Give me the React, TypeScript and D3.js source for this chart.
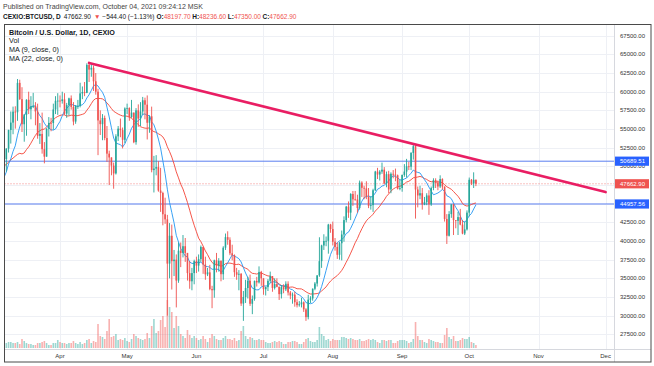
import React from "react";
import * as d3 from "d3";

const W = 654;
const H = 366;

// closes Feb 14 .. Mar 6 (only used to warm up the moving averages)
const warmupCloses = [48600, 47900, 49200, 52100, 51600, 55900, 55900, 57400, 54100, 48900, 49700, 47100, 46300, 46200, 45200, 49600, 48400, 50500, 48400, 48800, 48900];

// daily candles from Mar 7 2021 to Oct 4 2021 (open = previous close)
const closes = [
  // Mar
  50970, 52380, 54880, 55860, 57330, 57240, 61180, 59000, 55640, 56920, 58920, 57640, 58030, 58100, 57350, 54080, 54340, 52300, 51300, 55050, 55820, 55800, 57620, 58780, 58800,
  // Apr
  58740, 58970, 57060, 58200, 59110, 57970, 56000, 58090, 58110, 59770, 59960, 59840, 63580, 62960, 63200, 61390, 60000, 56150, 55650, 56480, 53790, 51700, 51190, 50100, 49050, 54020, 55050, 54850, 53550, 57750,
  // May
  57820, 56600, 57200, 53240, 57500, 56400, 57350, 58850, 58260, 55840, 56700, 49500, 49700, 49900, 46760, 46430, 43580, 42900, 36970, 40700, 37300, 37500, 34700, 38700, 38400, 39300, 38400, 35700, 34600, 35700, 37300,
  // Jun
  36700, 37570, 39200, 36850, 35530, 35800, 33560, 33400, 37400, 36700, 37340, 35550, 39100, 40520, 40160, 38350, 38090, 35820, 35480, 35600, 31620, 32500, 33700, 34660, 31590, 32240, 34650, 34450, 35860, 35000,
  // Jul
  33540, 33820, 34660, 35290, 33710, 34230, 33860, 32880, 33820, 33520, 34270, 33100, 32700, 32820, 31800, 31400, 31520, 31780, 30840, 29800, 32140, 32300, 33600, 34300, 35400, 37300, 39400, 40000, 40020, 42200, 41600,
  // Aug
  39900, 39200, 38150, 39700, 40870, 42800, 44600, 43800, 46300, 45580, 45550, 44420, 47820, 47120, 47040, 45900, 44700, 44800, 46800, 49300, 48900, 49300, 49550, 47700, 48950, 46900, 49000, 48900, 48800, 47000, 47100,
  // Sep
  48850, 49300, 50000, 49950, 51800, 52700, 46900, 46100, 46400, 44900, 45200, 46100, 44900, 47100, 48150, 47800, 47300, 48300, 47300, 42950, 40700, 43600, 44900, 42800, 42700, 43200, 42200, 41000, 41550, 43800,
  // Oct
  48200, 47700, 48197.7, 47662.9,
];

const highs = [
  51450, 52400, 54900, 57350, 58000, 58050, 61700, 61600, 60600, 57000, 58980, 60000, 59400, 59850, 58600, 58400, 55800, 57200, 53250, 55100, 56600, 56500, 58400, 59400, 59800,
  59500, 60000, 59800, 58500, 59200, 59500, 58600, 58200, 58900, 61200, 60700, 61300, 63800, 64000, 63800, 63500, 62500, 60400, 57500, 57000, 56800, 55400, 52100, 51200, 50500, 54300, 55400, 56400, 55200, 57900,
  58400, 57900, 58900, 57200, 57800, 58300, 58600, 59300, 59200, 59500, 56800, 58000, 51400, 51500, 50700, 49800, 46600, 45800, 43500, 42400, 42200, 38800, 38200, 39800, 39800, 40800, 40400, 38200, 37300, 36400, 37500,
  37900, 38200, 39400, 39200, 37900, 36400, 36800, 34000, 37500, 38400, 37700, 37400, 39300, 41000, 41300, 40500, 39500, 38200, 36400, 36100, 35700, 33300, 34800, 35200, 35500, 32700, 34700, 35200, 36600, 36000,
  35000, 33900, 34900, 35900, 35300, 35000, 35000, 33900, 34100, 34200, 34600, 34600, 33300, 33100, 33200, 32200, 31950, 32400, 31900, 31000, 32800, 32600, 33650, 34500, 35400, 40500, 39500, 40900, 40600, 42300, 42300,
  42600, 40400, 39800, 39900, 41400, 43300, 44700, 45300, 46400, 46700, 46700, 46200, 48100, 48000, 47400, 48000, 47100, 46000, 47000, 49400, 49800, 49500, 50500, 49900, 49300, 49400, 49200, 49500, 49700, 48900, 48200,
  48900, 50300, 51000, 50600, 51900, 52900, 52900, 47300, 47400, 47100, 45900, 46400, 46800, 47300, 48400, 48400, 48100, 48800, 48400, 47300, 43600, 44000, 44950, 45000, 42800, 43900, 44300, 42800, 42600, 44100,
  48500, 48300, 49200, 48236.6,
];

const lows = [
  48900, 49300, 51850, 53050, 54300, 55050, 56100, 58900, 54600, 53300, 54100, 57000, 56300, 57800, 55500, 53700, 53000, 51700, 50400, 51300, 54000, 54700, 54900, 57000, 56900,
  57900, 58400, 56900, 56500, 56800, 57600, 55500, 55700, 57700, 57900, 59000, 59400, 59800, 61300, 62000, 60100, 59600, 51500, 54200, 53500, 53500, 50600, 47500, 48800, 47000, 48900, 53400, 53900, 52400, 53100,
  57000, 56100, 56500, 53100, 52900, 55300, 55400, 56900, 56300, 53600, 54500, 49200, 46500, 48800, 46600, 43900, 42100, 42300, 30000, 35000, 33500, 35300, 31100, 34400, 36500, 37800, 37200, 34700, 33600, 33400, 34200,
  35700, 35900, 37200, 35600, 34800, 35300, 33400, 31000, 32400, 35800, 35900, 34600, 34800, 38800, 39500, 38100, 37400, 35200, 34800, 33400, 31300, 29300, 31700, 32300, 31300, 30200, 32000, 33900, 34300, 34000,
  32800, 32700, 33300, 34400, 33200, 33500, 33800, 32100, 32300, 33000, 33300, 32700, 32200, 31600, 31200, 31100, 31200, 31100, 30500, 29300, 29500, 31700, 32000, 33400, 33900, 35200, 36400, 38800, 39300, 38300, 41100,
  39400, 38700, 37600, 37500, 37400, 39900, 42500, 43100, 42800, 44700, 45400, 43800, 44200, 45900, 45600, 45600, 44400, 44200, 43900, 46700, 48300, 48100, 49000, 47600, 47200, 46400, 46400, 48400, 48000, 46900, 46800,
  46600, 48600, 48500, 49500, 49500, 50900, 43000, 44500, 45600, 44200, 44800, 44800, 43500, 44700, 46800, 47100, 46800, 47100, 46900, 42600, 39600, 40600, 43100, 40800, 41700, 40800, 42100, 40900, 40800, 41400,
  43300, 47500, 47100, 47350,
];

// daily volume, hundreds of BTC
const volumes = [
  5, 5, 6, 6, 5, 5, 6, 4, 9, 7, 5, 4, 4, 3, 3, 5, 5, 6, 7, 5, 3, 3, 5, 5, 8,
  6, 5, 5, 4, 5, 5, 7, 5, 4, 6, 4, 5, 8, 9, 5, 7, 6, 24, 12, 11, 9, 17, 29, 11, 12, 14, 8, 9, 8, 10,
  7, 6, 9, 14, 12, 10, 9, 8, 9, 15, 10, 22, 29, 15, 17, 28, 32, 21, 48, 41, 36, 20, 32, 22, 14, 12, 10, 18, 13, 10, 12,
  10, 8, 9, 12, 9, 6, 10, 14, 12, 9, 8, 8, 10, 12, 9, 9, 8, 10, 7, 8, 17, 22, 12, 9, 11, 10, 8, 8, 9, 8,
  8, 6, 5, 5, 6, 7, 6, 7, 6, 4, 4, 6, 6, 7, 7, 6, 4, 4, 6, 9, 10, 7, 6, 6, 8, 21, 14, 12, 8, 9, 7,
  9, 8, 8, 8, 11, 11, 10, 9, 10, 9, 8, 8, 9, 7, 7, 8, 9, 8, 9, 8, 6, 5, 8, 8, 7, 8, 8, 5, 5, 7, 8,
  8, 8, 7, 5, 6, 9, 26, 12, 8, 8, 6, 5, 9, 8, 7, 6, 6, 5, 5, 13, 20, 11, 9, 12, 7, 7, 8, 10, 9, 9,
  11, 6, 5, 3,
];

const priceTicks = [27500, 30000, 32500, 35000, 37500, 40000, 42500, 45000, 47500, 50000, 52500, 55000, 57500, 60000, 62500, 65000, 67500];
const monthLabels = ["Apr", "May", "Jun", "Jul", "Aug", "Sep", "Oct", "Nov", "Dec"];
const levelLines = [50689.51, 44957.56];
const lastPrice = 47662.9;
const trendStart = { date: Date.UTC(2021, 3, 14), price: 63850 };
const trendEnd = { date: Date.UTC(2021, 11, 1), price: 46550 };

const RED = "#ef5350";
const GREEN = "#26a69a";
const FONT = "'Liberation Sans', Arial, sans-serif";

export default function App() {
  const plot = { left: 4.5, right: 614, top: 24.5, bottom: 349 };

  const x = d3.scaleUtc().domain([Date.UTC(2021, 3, 1), Date.UTC(2021, 11, 1)]).range([60, 605.6]);
  const y = d3.scaleLinear().domain([27500, 67500]).range([334.3, 35.7]);
  const vy = d3.scaleLinear().domain([0, d3.max(volumes) as number]).range([348, 300]);

  const start = Date.UTC(2021, 2, 7);
  const bars = closes.map((c, i) => {
    const open = i === 0 ? warmupCloses[warmupCloses.length - 1] : closes[i - 1];
    return {
      t: start + i * 864e5,
      open,
      close: c,
      high: Math.max(highs[i], open, c),
      low: Math.min(lows[i], open, c),
      vol: volumes[i],
    };
  });

  const all = warmupCloses.concat(closes);
  const ma = (n: number) =>
    bars.map((b, i) => {
      const end = i + warmupCloses.length;
      return { t: b.t, v: d3.mean(all.slice(end - n + 1, end + 1)) as number };
    });
  const line = d3
    .line<{ t: number; v: number }>()
    .x((d) => x(d.t))
    .y((d) => y(d.v));

  const months = monthLabels.map((m, i) => ({ m, t: Date.UTC(2021, 3 + i, 1) }));
  const bw = 1.6;

  return (
    <svg width={W} height={H} style={{ position: "absolute", left: 0, top: 0, background: "#fff" }} fontFamily={FONT}>
      <defs>
        <clipPath id="plot">
          <rect x={plot.left} y={plot.top} width={plot.right - plot.left} height={plot.bottom - plot.top} />
        </clipPath>
      </defs>
      <rect width={W} height={H} fill="#fff" />

      {/* header */}
      <text x={3} y={9} fontSize={7} fill="#444">
        Published on TradingView.com, October 04, 2021 09:24:12 MSK
      </text>
      <text x={3} y={18.5} fontSize={6.5} fill="#131722">
        <tspan fontWeight="bold">CEXIO:BTCUSD, D</tspan>
        <tspan dx={3}>47662.90</tspan>
        <tspan dx={3} fill={RED}>▼</tspan>
        <tspan dx={2}>−544.40 (−1.13%)</tspan>
        <tspan dx={2} fontWeight="bold">O:</tspan>
        <tspan fill={RED}>48197.70</tspan>
        <tspan dx={1.5} fontWeight="bold">H:</tspan>
        <tspan fill={RED}>48236.60</tspan>
        <tspan dx={1.5} fontWeight="bold">L:</tspan>
        <tspan fill={RED}>47350.00</tspan>
        <tspan dx={1.5} fontWeight="bold">C:</tspan>
        <tspan fill={RED}>47662.90</tspan>
      </text>

      {/* grid */}
      <g stroke="#eef0f5" strokeWidth={1}>
        {priceTicks.map((p) => (
          <line key={p} x1={plot.left} x2={plot.right} y1={Math.round(y(p)) + 0.5} y2={Math.round(y(p)) + 0.5} />
        ))}
        {months.map((d) => (
          <line key={d.m} x1={Math.round(x(d.t)) + 0.5} x2={Math.round(x(d.t)) + 0.5} y1={plot.top} y2={plot.bottom} />
        ))}
      </g>

      <g clipPath="url(#plot)">
        {/* volume */}
        {bars.map((b) => (
          <rect
            key={"v" + b.t}
            x={x(b.t) - bw / 2}
            y={vy(b.vol)}
            width={bw}
            height={348 - vy(b.vol)}
            fill={b.close >= b.open ? GREEN : RED}
            opacity={0.45}
          />
        ))}

        {/* level lines */}
        {levelLines.map((p) => (
          <line key={p} x1={plot.left} x2={plot.right} y1={y(p)} y2={y(p)} stroke="#5b7ff0" strokeWidth={1} />
        ))}
        <line x1={plot.left} x2={plot.right} y1={y(lastPrice)} y2={y(lastPrice)} stroke={RED} strokeWidth={1} strokeDasharray="1,2" opacity={0.7} />

        {/* moving averages */}
        <path d={line(ma(22)) || ""} fill="none" stroke="#f44336" strokeWidth={0.9} />
        <path d={line(ma(9)) || ""} fill="none" stroke="#2196f3" strokeWidth={0.9} />

        {/* candles */}
        {bars.map((b) => {
          const cx = x(b.t);
          const col = b.close >= b.open ? GREEN : RED;
          const top = y(Math.max(b.open, b.close));
          const bot = y(Math.min(b.open, b.close));
          return (
            <g key={"c" + b.t} fill={col} stroke="none">
              <rect x={cx - 0.45} y={y(b.high)} width={0.9} height={y(b.low) - y(b.high)} />
              <rect x={cx - bw / 2} y={top} width={bw} height={Math.max(0.8, bot - top)} />
            </g>
          );
        })}

        {/* trend line */}
        <line
          x1={x(trendStart.date)}
          y1={y(trendStart.price)}
          x2={x(trendEnd.date)}
          y2={y(trendEnd.price)}
          stroke="#e91e63"
          strokeWidth={2.6}
          strokeLinecap="round"
        />
      </g>

      {/* legend */}
      <g fontSize={7.2} fill="#131722">
        <text x={9} y={34.5} fontWeight="bold">Bitcoin / U.S. Dollar, 1D, CEXIO</text>
        <text x={9} y={43.3}>Vol</text>
        <text x={9} y={52.3}>MA (9, close, 0)</text>
        <text x={9} y={61.3}>MA (22, close, 0)</text>
      </g>

      {/* price axis */}
      <g fontSize={6} fill="#333" textAnchor="end">
        {priceTicks.map((p) => (
          <text key={p} x={645} y={y(p) + 2.1}>
            {d3.format(".2f")(p)}
          </text>
        ))}
      </g>
      {[
        { p: levelLines[0], c: "#2962ff" },
        { p: lastPrice, c: RED },
        { p: levelLines[1], c: "#2962ff" },
      ].map((l) => (
        <g key={l.p}>
          <rect x={614} y={y(l.p) - 4.6} width={35} height={9.2} fill={l.c} />
          <text x={645} y={y(l.p) + 2.1} fontSize={6} fill="#fff" textAnchor="end">
            {d3.format(".2f")(l.p)}
          </text>
        </g>
      ))}

      {/* time axis */}
      <g fontSize={6} fill="#333" textAnchor="middle">
        {months.map((d) => (
          <text key={d.m} x={x(d.t)} y={357.5}>
            {d.m}
          </text>
        ))}
      </g>

      {/* frame */}
      <line x1={plot.left} x2={651} y1={349.5} y2={349.5} stroke="#d6d8de" />
      <line x1={614.5} x2={614.5} y1={plot.top} y2={362} stroke="#d6d8de" />
      <rect x={4.5} y={24.5} width={646.5} height={337.5} fill="none" stroke="#4a4a4a" strokeWidth={1} />
    </svg>
  );
}
